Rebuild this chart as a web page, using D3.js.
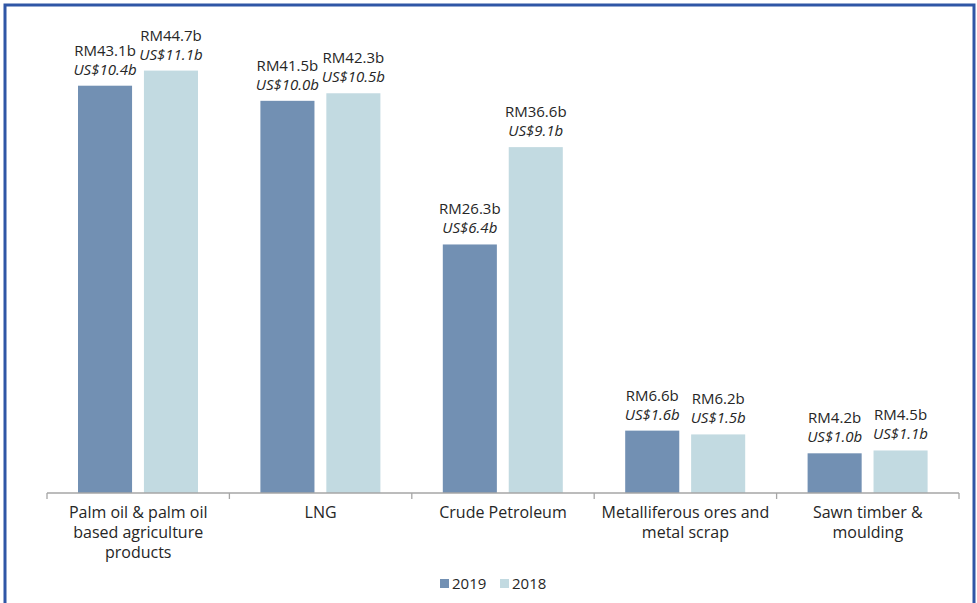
<!DOCTYPE html>
<html><head><meta charset="utf-8">
<script src="https://cdn.jsdelivr.net/npm/d3@7"></script>
<style>body{margin:0;background:#fff;}svg{display:block;}</style>
</head><body>
<script>
const categories = [["Palm oil & palm oil","based agriculture","products"],["LNG"],["Crude Petroleum"],["Metalliferous ores and","metal scrap"],["Sawn timber &","moulding"]];
const series = ["2019","2018"];
const values2019 = [43.1, 41.5, 26.3, 6.6, 4.2];
const values2018 = [44.7, 42.3, 36.6, 6.2, 4.5];
const usd2019 = [10.4, 10.0, 6.4, 1.6, 1.0];
const usd2018 = [11.1, 10.5, 9.1, 1.5, 1.1];
const colors = {"2019":"#7290b3","2018":"#c2dae1"};

const W=977,H=603;
const svg=d3.select("body").append("svg").attr("width",W).attr("height",H);
const font="'Open Sans', sans-serif";
svg.append("rect").attr("x",5).attr("y",5).attr("width",969).attr("height",H+10)
  .attr("fill","none").attr("stroke","#2f56a6").attr("stroke-width",3);

const x0=d3.scaleBand().domain(d3.range(5)).range([47,959]);
const x1=d3.scaleBand().domain(series).range([31,151]).paddingInner(0.18);
const y=d3.scaleLinear().domain([0,50]).range([493,20.5]);

const data=categories.map((c,i)=>({i,vals:[{s:"2019",v:values2019[i],u:usd2019[i]},{s:"2018",v:values2018[i],u:usd2018[i]}]}));
const g=svg.selectAll("g.cat").data(data).join("g").attr("transform",d=>`translate(${x0(d.i)},0)`);
const b=g.selectAll("g.b").data(d=>d.vals).join("g");
b.append("rect").attr("x",d=>x1(d.s)).attr("width",x1.bandwidth())
  .attr("y",d=>y(d.v)).attr("height",d=>y(0)-y(d.v)).attr("fill",d=>colors[d.s]);
b.append("text").attr("x",d=>x1(d.s)+x1.bandwidth()/2).attr("y",d=>y(d.v)-30)
  .attr("text-anchor","middle").attr("font-family",font).attr("font-size",15).attr("fill","#262626")
  .text(d=>"RM"+d.v.toFixed(1)+"b");
b.append("text").attr("x",d=>x1(d.s)+x1.bandwidth()/2).attr("y",d=>y(d.v)-11)
  .attr("text-anchor","middle").attr("font-family",font).attr("font-size",15).attr("font-style","italic").attr("fill","#262626")
  .text(d=>"US$"+d.u.toFixed(1)+"b");

// axis
const ax=svg.append("g").attr("transform",`translate(0,${y(0)})`);
ax.append("line").attr("x1",47).attr("x2",959).attr("stroke","#a6a6a6").attr("stroke-width",1.3);
const ticks=d3.range(6).map(i=>i<5?x0(i):x0(4)+x0.bandwidth());
ax.selectAll("line.t").data(ticks).join("line").attr("x1",d=>d).attr("x2",d=>d).attr("y1",0).attr("y2",6)
  .attr("stroke","#a6a6a6").attr("stroke-width",1.3);
const lab=ax.selectAll("text.c").data(categories).join("text")
  .attr("text-anchor","middle").attr("font-family",font).attr("font-size",16).attr("fill","#262626");
lab.selectAll("tspan").data((d,i)=>d.map(t=>({t,i}))).join("tspan")
  .attr("x",d=>x0(d.i)+x0.bandwidth()/2).attr("y",(d,j)=>25+j*20).text(d=>d.t);

// legend
const leg=svg.append("g");
const lx=[440,500];
series.forEach((s,i)=>{
  leg.append("rect").attr("x",lx[i]).attr("y",579).attr("width",9).attr("height",9).attr("fill",colors[s]);
  leg.append("text").attr("x",lx[i]+12).attr("y",589).attr("font-family",font).attr("font-size",15).attr("fill","#262626").text(s);
});
</script>
</body></html>
